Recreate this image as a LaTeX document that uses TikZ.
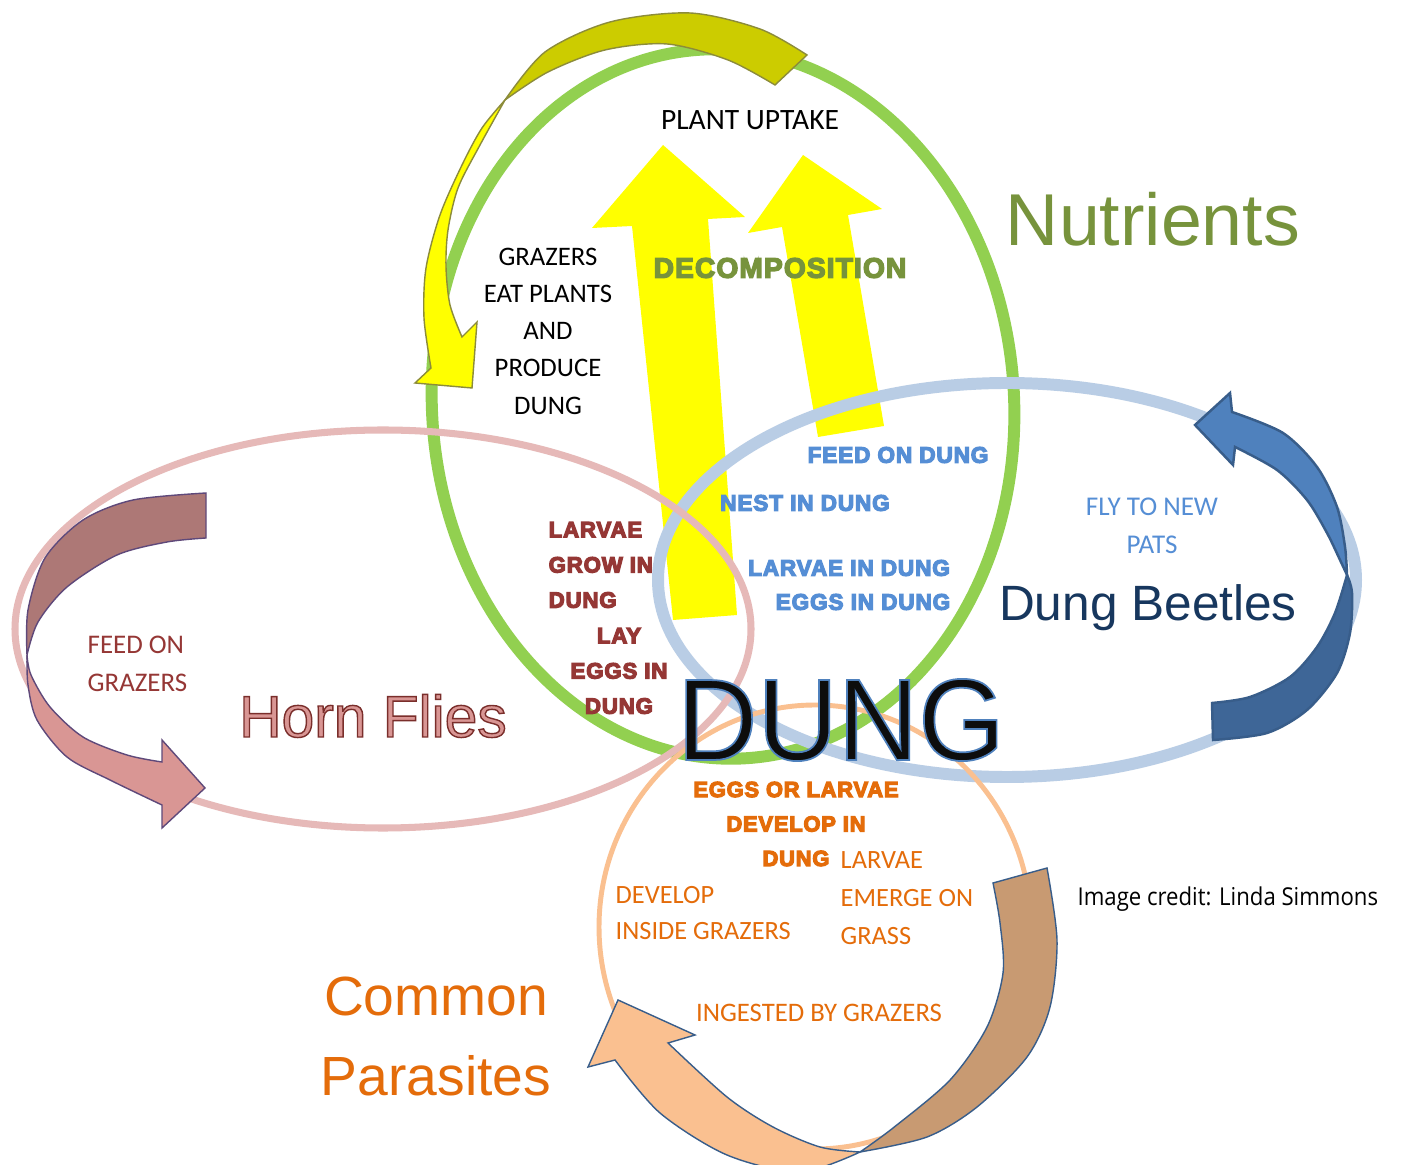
\documentclass[tikz,border=0pt]{standalone}
\usepackage{fontspec}
\setmainfont{Carlito}
\newfontfamily\labelfont{Liberation Sans}
\newfontfamily\heavyfont{Liberation Sans}[LetterSpace=4]
\newfontfamily\creditfont{Open Sans}
\usetikzlibrary{positioning}

\definecolor{ringgreen}{HTML}{92D050}
\definecolor{ringblue}{HTML}{B9CDE5}
\definecolor{ringpink}{HTML}{E6B9B8}
\definecolor{ringorange}{HTML}{FAC090}
\definecolor{bigyellow}{HTML}{FFFF00}
\definecolor{oliveback}{HTML}{CCCC00}
\definecolor{oliveline}{HTML}{8C8C3A}
\definecolor{nutrigreen}{HTML}{77933C}
\definecolor{beetleblue}{HTML}{558ED5}
\definecolor{beetlenavy}{HTML}{17375E}
\definecolor{beetlelight}{HTML}{4F81BD}
\definecolor{beetledark}{HTML}{3E6697}
\definecolor{beetleline}{HTML}{385D8A}
\definecolor{flyred}{HTML}{953735}
\definecolor{flypink}{HTML}{D99694}
\definecolor{flydark}{HTML}{AD7876}
\definecolor{flyline}{HTML}{5F497A}
\definecolor{paraorange}{HTML}{E46C0A}
\definecolor{parabrown}{HTML}{C89A72}
\definecolor{dungblack}{HTML}{0D0D0D}

% text drawn filled and stroked
\newcommand{\outlined}[3]{\special{pdf:literal direct #2 w #3 RG 2 Tr}#1\special{pdf:literal direct 0 Tr}}
\newcommand{\fatgreen}[1]{\outlined{#1}{0.4}{0.467 0.576 0.235}}
\newcommand{\fatblue}[1]{\outlined{#1}{0.35}{0.333 0.557 0.835}}
\newcommand{\fatred}[1]{\outlined{#1}{0.35}{0.584 0.216 0.208}}
\newcommand{\fatorange}[1]{\outlined{#1}{0.35}{0.894 0.424 0.039}}

\tikzset{
  ring/.style={line width=#1},
  band/.style={line width=0.4pt},
  calib/.style={font=\fontsize{7.6}{10.6}\selectfont, inner sep=0pt},
  heavy/.style={font=\heavyfont\bfseries\fontsize{6.4}{10}\selectfont, inner sep=0pt},
}

\begin{document}
\begin{tikzpicture}[x=0.01cm, y=-0.01cm]
    \fill[white] (0,0) rectangle (1401,1165);
    \useasboundingbox (0,0) rectangle (1401,1165);

    % Nutrients ring
    \draw[ring=3.4pt, draw=ringgreen, rotate around={4:(723,404)}] (723,404) ellipse [x radius=291, y radius=355];

    % Decomposition arrows
    \fill[bigyellow] (673,620) -- (632,226) -- (592,228) -- (663,145) -- (745,217) -- (708,219) -- (737,615) -- cycle;
    \fill[bigyellow] (818,437) -- (782,227) -- (748,233) -- (803,155) -- (882,209) -- (848,215) -- (884,426) -- cycle;

    % Other rings
    \draw[ring=3.4pt, draw=ringblue] (1007,580) ellipse [x radius=349, y radius=197];
    \draw[ring=2pt, draw=ringpink] (383,629) ellipse [x radius=368, y radius=199];
    \draw[ring=1.4pt, draw=ringorange] (815,927) ellipse [x radius=216, y radius=222];

    % Curved arrow: grazers eat plants
    \filldraw[band, fill=oliveback, draw=oliveline] plot[smooth] coordinates {(807,55) (760,29) (690,13) (610,22) (545,52) (505,100)}
        -- plot[smooth] coordinates {(505,100) (548,72) (605,50) (667,44) (728,60) (775,85)} -- cycle;
    \filldraw[band, fill=bigyellow, draw=oliveline] plot[smooth] coordinates {(505,100) (482,128) (462,165) (440,215) (426,268) (424,318) (431,368)}
        -- (415,383) -- (472,388) -- (477,322)
        -- plot[smooth] coordinates {(462,337) (450,305) (446,267) (448,230) (458,188) (480,145) (505,100)} -- cycle;

    % Curved arrow: fly to new pats
    \filldraw[line width=0.7pt, fill=beetledark, draw=beetleline] plot[smooth] coordinates {(1347,575) (1352,593) (1350,633) (1337,673) (1307,710) (1267,733) (1213,740)}
        -- (1212,703) -- plot[smooth] coordinates {(1212,703) (1250,697) (1290,677) (1317,647) (1335,613) (1347,575)} -- cycle;
    \filldraw[line width=0.7pt, fill=beetlelight, draw=beetleline] (1232,412) -- (1230,393) -- (1195,425) -- (1233,465)
        -- plot[smooth] coordinates {(1235,447) (1277,470) (1307,500) (1327,533) (1340,560) (1347,575)}
        -- plot[smooth] coordinates {(1347,575) (1345,547) (1337,507) (1317,467) (1283,433) (1232,412)} -- cycle;

    % Curved arrow: feed on grazers
    \filldraw[band, fill=flydark, draw=flyline] (206,538) -- plot[smooth] coordinates {(206,493) (133,500) (83,520) (45,558) (28,610) (27,655)}
        -- plot[smooth] coordinates {(27,655) (38,622) (67,587) (117,555) (167,542) (206,538)} -- cycle;
    \filldraw[band, fill=flypink, draw=flyline] plot[smooth] coordinates {(27,655) (28,685) (37,720) (67,757) (110,780) (162,805)}
        -- (162,828) -- (205,788) -- (162,740)
        -- plot[smooth] coordinates {(162,762) (127,755) (83,737) (50,707) (31,675) (27,655)} -- cycle;

    % Curved arrow: parasite cycle
    \filldraw[band, fill=parabrown, draw=beetleline] (993,883) -- plot[smooth] coordinates {(1047,868) (1057,940) (1050,1007) (1027,1057) (977,1107) (927,1137) (860,1152)}
        -- plot[smooth] coordinates {(860,1152) (893,1128) (950,1080) (987,1027) (1003,973) (1000,923) (993,883)} -- cycle;
    \filldraw[band, fill=ringorange, draw=beetleline] plot[smooth] coordinates {(860,1152) (800,1172) (727,1155) (660,1113) (615,1060)}
        -- (588,1067) -- (618,1000) -- (695,1035)
        -- plot[smooth] coordinates {(668,1043) (727,1097) (773,1127) (820,1147) (860,1152)} -- cycle;

    % Nutrients texts
    \node[calib, font=\fontsize{8.4}{10.6}\selectfont] (uptake) at (750,120) {PLANT UPTAKE};
    \node[calib, align=center] (grazers) at (548,331) {GRAZERS\\EAT PLANTS\\AND\\PRODUCE\\DUNG};
    \node[heavy, font=\heavyfont\bfseries\fontsize{8}{10}\selectfont, text=nutrigreen] (decomp) at (780,268) {\fatgreen{DECOMPOSITION}};
    \node[font=\labelfont\fontsize{20.9}{24}\selectfont, text=nutrigreen, inner sep=0pt] (nutrients) at (1153,219) {Nutrients};

    % Dung beetle texts
    \node[heavy, text=beetleblue] (feedon) at (898,455) {\fatblue{FEED ON DUNG}};
    \node[heavy, text=beetleblue] (nest) at (805,503) {\fatblue{NEST IN DUNG}};
    \node[heavy, text=beetleblue] (larvaein) at (849,568) {\fatblue{LARVAE IN DUNG}};
    \node[heavy, text=beetleblue] (eggsin) at (863,602) {\fatblue{EGGS IN DUNG}};
    \node[calib, align=center, text=beetleblue, font=\fontsize{7.7}{10.8}\selectfont] (flyto) at (1152,526) {FLY TO NEW\\PATS};
    \node[font=\labelfont\fontsize{14.1}{18}\selectfont, text=beetlenavy, anchor=base, inner sep=0pt] (beetles) at (1148,621) {Dung Beetles};

    % Horn fly texts
    \node[font=\labelfont\fontsize{16.7}{20}\selectfont, text=flypink, anchor=base, inner sep=0pt] (hornflies) at (373,737) {\outlined{Horn Flies}{0.4}{0.48 0.18 0.17}};
    \node[calib, align=left, anchor=west, text=flyred, font=\fontsize{7.65}{10.8}\selectfont] (feedgraz) at (87,664) {FEED ON\\GRAZERS};
    \node[heavy, align=left, anchor=west, text=flyred, font=\heavyfont\bfseries\fontsize{6.3}{10}\selectfont] (grow) at (548,565) {\fatred{LARVAE\\GROW IN\\DUNG}};
    \node[heavy, align=center, text=flyred, font=\heavyfont\bfseries\fontsize{6.3}{10}\selectfont] (lay) at (619,671) {\fatred{LAY\\EGGS IN\\DUNG}};

    % Parasite texts
    \node[heavy, align=center, text=paraorange, font=\heavyfont\bfseries\fontsize{6.2}{9.8}\selectfont] (develop) at (796,824) {\fatorange{EGGS OR LARVAE\\DEVELOP IN\\DUNG}};
    \node[calib, align=left, anchor=west, text=paraorange, font=\fontsize{7.5}{10.7}\selectfont] (emerge) at (840,898) {LARVAE\\EMERGE ON\\GRASS};
    \node[calib, align=left, anchor=west, text=paraorange, font=\fontsize{7.5}{10.5}\selectfont] (inside) at (615,913) {DEVELOP\\INSIDE GRAZERS};
    \node[calib, text=paraorange, font=\fontsize{7.6}{10}\selectfont] (ingested) at (819,1013) {INGESTED BY GRAZERS};
    \node[font=\labelfont\fontsize{15.7}{20}\selectfont, text=paraorange, anchor=base, inner sep=0pt] (common) at (436,1015) {Common};
    \node[font=\labelfont\fontsize{15.7}{20}\selectfont, text=paraorange, anchor=base, inner sep=0pt] (parasites) at (436,1095) {Parasites};

    % Centre word and credit
    \node[font=\labelfont\fontsize{33}{36}\selectfont, text=dungblack, inner sep=0pt, xscale=0.96] (dung) at (841,720) {\outlined{DUNG}{0.5}{0.31 0.506 0.741}};
    \node[font=\creditfont\fontsize{7}{9}\selectfont, anchor=base west, inner sep=0pt, xscale=0.9] (credit) at (1077,905) {Image credit: Linda Simmons};
\end{tikzpicture}
\end{document}
